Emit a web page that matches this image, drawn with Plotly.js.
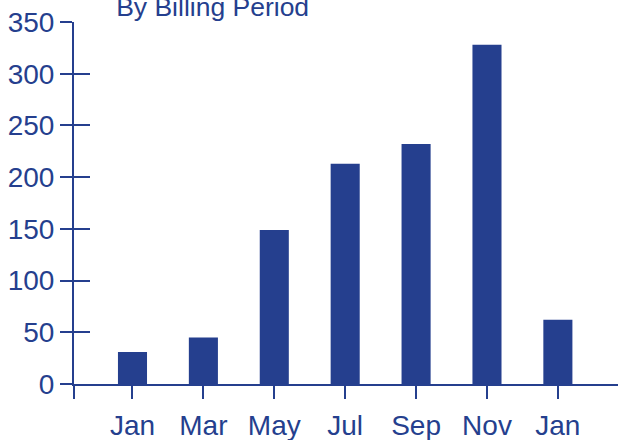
<!DOCTYPE html>
<html>
<head>
<meta charset="utf-8">
<script src="https://cdn.plot.ly/plotly-3.0.1.min.js"></script>
<style>
  html, body { margin: 0; padding: 0; background: #ffffff; }
  #chart { width: 618px; height: 440px; }
</style>
</head>
<body>
<div id="chart"></div>
<script>
// Data
const periodLabels = ['Jan', 'Mar', 'May', 'Jul', 'Sep', 'Nov', 'Jan'];
const periodValues = [31, 45, 149, 213, 232, 328, 62];
const yTickValues = [0, 50, 100, 150, 200, 250, 300, 350];
const chartTitle = 'By Billing Period';

const blue = '#253f8e';
const fontFamily = 'Liberation Sans, Arial, Helvetica, sans-serif';

const periodIndex = periodLabels.map((_, i) => i);
const xMin = -0.825, xMax = 6.848;

const trace = {
  type: 'bar',
  x: periodIndex,
  y: periodValues,
  marker: { color: blue, line: { width: 0 } },
  hoverinfo: 'x+y'
};

// invisible helper trace so the second y axis (inside ticks) is drawn
const helper = {
  type: 'scatter', mode: 'none',
  x: [periodIndex[0]], y: [0], yaxis: 'y2', hoverinfo: 'skip', showlegend: false
};

const layout = {
  width: 618, height: 440,
  margin: { l: 74, r: 0, t: 22, b: 56, pad: 0 },
  paper_bgcolor: '#ffffff', plot_bgcolor: '#ffffff',
  showlegend: false,
  bargap: 0.59,
  font: { family: fontFamily, color: blue, size: 28 },
  title: {
    text: chartTitle,
    font: { family: fontFamily, color: blue, size: 26.5 },
    xref: 'paper', x: 0.0775, xanchor: 'left',
    yref: 'container', y: 0.985, yanchor: 'middle',
    automargin: false
  },
  xaxis: {
    range: [xMin, xMax],
    tickmode: 'array',
    tickvals: [xMin].concat(periodIndex),
    ticktext: [''].concat(periodLabels),
    ticks: 'outside', ticklen: 13, tickwidth: 2, tickcolor: blue,
    ticklabelstandoff: 2,
    showline: true, linecolor: blue, linewidth: 2,
    showgrid: false, zeroline: false,
    tickfont: { family: fontFamily, color: blue, size: 28 },
    fixedrange: true
  },
  yaxis: {
    range: [0, 350],
    tickmode: 'array', tickvals: yTickValues,
    ticks: 'outside', ticklen: 12, tickwidth: 2, tickcolor: blue,
    showline: true, linecolor: blue, linewidth: 2,
    showgrid: false, zeroline: false,
    tickfont: { family: fontFamily, color: blue, size: 28 },
    fixedrange: true
  },
  yaxis2: {
    overlaying: 'y', side: 'left', anchor: 'x',
    range: [0, 350],
    tickmode: 'array', tickvals: yTickValues,
    ticks: 'inside', ticklen: 16, tickwidth: 2, tickcolor: blue,
    showticklabels: false, showline: false,
    showgrid: false, zeroline: false,
    fixedrange: true
  }
};

Plotly.newPlot('chart', [trace, helper], layout, { displayModeBar: false, staticPlot: true });
</script>
</body>
</html>
